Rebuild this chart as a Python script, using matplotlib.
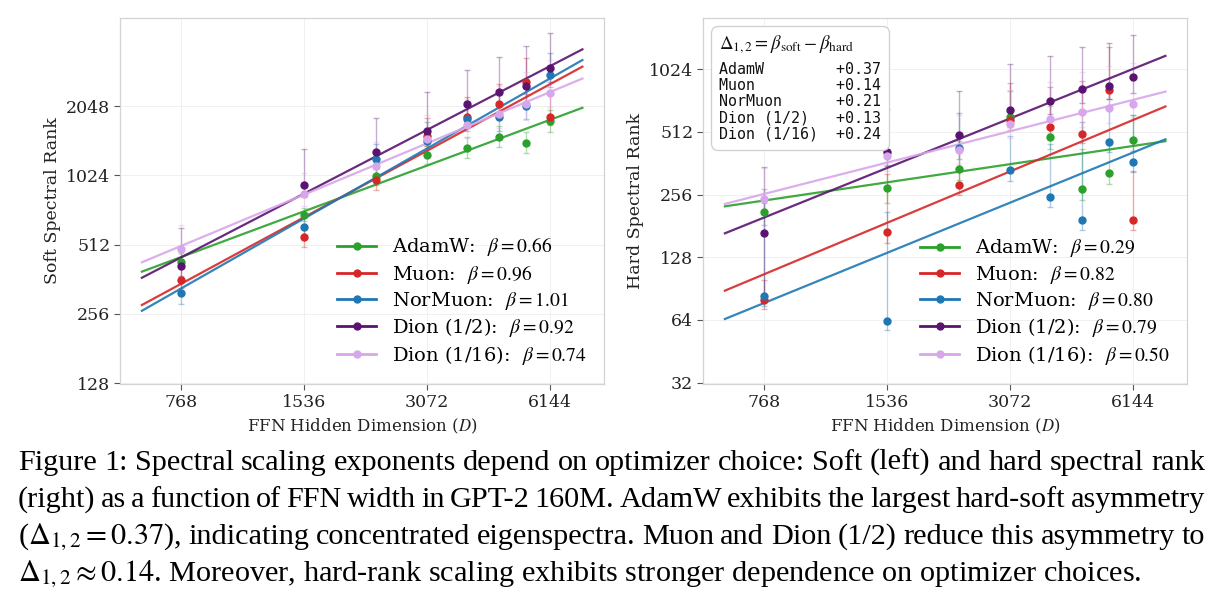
import numpy as np
import matplotlib
matplotlib.use("Agg")
import matplotlib.pyplot as plt
from matplotlib.lines import Line2D
from matplotlib.ticker import FixedLocator, NullLocator
from matplotlib.offsetbox import AnchoredOffsetbox, TextArea, VPacker

plt.rcParams["font.family"] = ["DejaVu Serif"]
plt.rcParams["mathtext.fontset"] = "stix"

# FFN hidden dimension (x axis)
dims = [768, 1536, 2304, 3072, 3840, 4608, 5376, 6144]
optimizers = ["AdamW", "Muon", "NorMuon", "Dion (1/2)", "Dion (1/16)"]
colors = ["#2ca02c", "#d62728", "#1f77b4", "#5a1470", "#d8a6ea"]

# soft spectral rank (mean, lower err, upper err)
soft_adamw = [430, 686, 1020, 1262, 1349, 1507, 1420, 1774]
soft_adamw_lo = [25, 40, 90, 110, 125, 143, 143, 190]
soft_adamw_hi = [40, 50, 80, 120, 150, 180, 160, 200]
soft_muon = [361, 554, 976, 1522, 1841, 2103, 2613, 1841]
soft_muon_lo = [30, 53, 93, 150, 200, 250, 300, 150]
soft_muon_hi = [40, 60, 150, 300, 400, 450, 700, 500]
soft_normuon = [317, 612, 1209, 1448, 1798, 1841, 2060, 2794]
soft_normuon_lo = [33, 60, 120, 150, 200, 250, 250, 300]
soft_normuon_hi = [40, 80, 200, 300, 350, 450, 500, 700]
soft_dion2 = [414, 928, 1297, 1600, 2103, 2364, 2510, 3006]
soft_dion2_lo = [40, 100, 150, 200, 300, 300, 400, 400]
soft_dion2_hi = [190, 400, 530, 755, 850, 990, 1236, 1262]
soft_dion16 = [492, 854, 1131, 1481, 1693, 1903, 2089, 2341]
soft_dion16_lo = [60, 100, 120, 150, 200, 250, 300, 300]
soft_dion16_hi = [131, 200, 300, 400, 500, 600, 800, 900]

# hard spectral rank
hard_adamw = [212, 274, 341, 603, 484, 272, 324, 467]
hard_adamw_lo = [30, 40, 40, 60, 60, 30, 35, 50]
hard_adamw_hi = [60, 80, 120, 200, 200, 150, 150, 150]
hard_muon = [80, 170, 285, 582, 541, 501, 818, 194]
hard_muon_lo = [8, 20, 30, 60, 50, 50, 80, 20]
hard_muon_hi = [20, 150, 200, 300, 300, 400, 500, 140]
hard_normuon = [83, 63, 429, 338, 248, 194, 458, 369]
hard_normuon_lo = [8, 6, 50, 40, 25, 20, 50, 40]
hard_normuon_hi = [150, 149, 200, 150, 200, 380, 400, 250]
hard_dion2 = [168, 411, 494, 654, 725, 825, 855, 938]
hard_dion2_lo = [85, 60, 60, 100, 100, 120, 120, 150]
hard_dion2_hi = [180, 250, 310, 430, 460, 480, 520, 560]
hard_dion16 = [245, 393, 418, 561, 588, 642, 666, 699]
hard_dion16_lo = [80, 60, 60, 80, 80, 100, 100, 100]
hard_dion16_hi = [100, 150, 200, 250, 300, 350, 400, 400]

soft_beta = [0.66, 0.96, 1.01, 0.92, 0.74]
hard_beta = [0.29, 0.82, 0.80, 0.79, 0.50]
delta = [0.37, 0.14, 0.21, 0.13, 0.24]

caption = [
    "Figure 1: Spectral scaling exponents depend on optimizer choice: Soft (left) and hard spectral rank",
    "(right) as a function of FFN width in GPT-2 160M. AdamW exhibits the largest hard-soft asymmetry",
    r"($\Delta_{1,2}=0.37$), indicating concentrated eigenspectra. Muon and Dion (1/2) reduce this asymmetry to",
    r"$\Delta_{1,2}\approx0.14$. Moreover, hard-rank scaling exhibits stronger dependence on optimizer choices.",
]

soft_vals = [soft_adamw, soft_muon, soft_normuon, soft_dion2, soft_dion16]
soft_lo = [soft_adamw_lo, soft_muon_lo, soft_normuon_lo, soft_dion2_lo, soft_dion16_lo]
soft_hi = [soft_adamw_hi, soft_muon_hi, soft_normuon_hi, soft_dion2_hi, soft_dion16_hi]
hard_vals = [hard_adamw, hard_muon, hard_normuon, hard_dion2, hard_dion16]
hard_lo = [hard_adamw_lo, hard_muon_lo, hard_normuon_lo, hard_dion2_lo, hard_dion16_lo]
hard_hi = [hard_adamw_hi, hard_muon_hi, hard_normuon_hi, hard_dion2_hi, hard_dion16_hi]


def panel(ax, vals, lo, hi, betas, ylabel, yticks, ylim):
    x = np.array(dims, float)
    xf = np.geomspace(x.min() * 0.8, x.max() * 1.2, 50)
    handles = []
    for v, l, h, b, name, c in zip(vals, lo, hi, betas, optimizers, colors):
        v = np.array(v, float)
        # fixed-slope power law through the log-space centroid
        c0 = np.mean(np.log(v)) - b * np.mean(np.log(x))
        ax.plot(xf, np.exp(c0) * xf ** b, color=c, lw=1.6, alpha=0.9, zorder=2)
        ax.errorbar(x, v, yerr=[l, h], fmt="none", ecolor=c, alpha=0.35,
                    elinewidth=1, capsize=2, capthick=1, zorder=1)
        ax.plot(x, v, "o", color=c, ms=5, zorder=3)
        handles.append(Line2D([], [], color=c, marker="o", ms=5, lw=2,
                              label=f"{name}:  $\\beta={b:.2f}$"))
    ax.set_xscale("log")
    ax.set_yscale("log")
    ax.set_xlim(543, 8330)
    ax.set_ylim(*ylim)
    ax.xaxis.set_major_locator(FixedLocator([768, 1536, 3072, 6144]))
    ax.set_xticklabels(["768", "1536", "3072", "6144"])
    ax.yaxis.set_major_locator(FixedLocator(yticks))
    ax.set_yticklabels([str(t) for t in yticks])
    ax.xaxis.set_minor_locator(NullLocator())
    ax.yaxis.set_minor_locator(NullLocator())
    ax.grid(True, color="#f0f0f0", lw=0.7)
    ax.set_axisbelow(True)
    for s in ax.spines.values():
        s.set_color("#d3d3d3")
        s.set_linewidth(0.9)
    ax.tick_params(direction="out", length=4, width=0.8, color="#555555",
                   labelsize=12.5, labelcolor="#222222", pad=3)
    ax.set_xlabel("FFN Hidden Dimension ($D$)", fontsize=12, color="#222222", labelpad=4)
    ax.set_ylabel(ylabel, fontsize=12.5, color="#222222", labelpad=4)
    ax.legend(handles=handles, loc="lower right", frameon=False, fontsize=14,
              handlelength=2.0, handletextpad=0.8, labelspacing=0.22,
              borderaxespad=0.5)


fig = plt.figure(figsize=(12.23, 5.95), dpi=100)
ax1 = fig.add_axes([0.0981, 0.3546, 0.3958, 0.6151])
ax2 = fig.add_axes([0.5748, 0.3546, 0.3958, 0.6151])

panel(ax1, soft_vals, soft_lo, soft_hi, soft_beta, "Soft Spectral Rank",
      [128, 256, 512, 1024, 2048], (127, 4950))
panel(ax2, hard_vals, hard_lo, hard_hi, hard_beta, "Hard Spectral Rank",
      [32, 64, 128, 256, 512, 1024], (31.5, 1806))

# delta table on the right panel
title = TextArea(r"$\Delta_{1,2}=\beta_{\rm soft}-\beta_{\rm hard}$",
                 textprops=dict(fontsize=13.6, color="#111111"))
body = TextArea("\n".join(f"{n:<13}{d:+.2f}" for n, d in zip(optimizers, delta)),
                textprops=dict(family="DejaVu Sans Mono", fontsize=10.8,
                               linespacing=1.1, color="#111111"))
pack = VPacker(children=[title, body], align="left", pad=0, sep=4)
box = AnchoredOffsetbox(loc="upper left", child=pack, pad=0.6, borderpad=0.55,
                        frameon=True)
box.patch.set_boxstyle("round,pad=0,rounding_size=0.5")
box.patch.set_edgecolor("#cfcfcf")
box.patch.set_facecolor("white")
box.patch.set_linewidth(0.9)
ax2.add_artist(box)

# justified caption
fig.canvas.draw()
renderer = fig.canvas.get_renderer()
W = fig.get_figwidth() * fig.dpi
H = fig.get_figheight() * fig.dpi
cap_kw = dict(fontsize=21.8, family="Liberation Serif", color="black", va="baseline")
x0, x1 = 18, 1205
baselines = [470, 507, 544, 581]
for i, (line, yb) in enumerate(zip(caption, baselines)):
    y = 1 - yb / H
    if i == len(caption) - 1:
        fig.text(x0 / W, y, line, **cap_kw)
        continue
    words = line.split(" ")
    widths = []
    for w in words:
        t = fig.text(0, 0, w, **cap_kw)
        widths.append(t.get_window_extent(renderer).width)
        t.remove()
    gap = (x1 - x0 - sum(widths)) / (len(words) - 1)
    xp = x0
    for w, wd in zip(words, widths):
        fig.text(xp / W, y, w, **cap_kw)
        xp += wd + gap

fig.savefig("out.png", dpi=100)
